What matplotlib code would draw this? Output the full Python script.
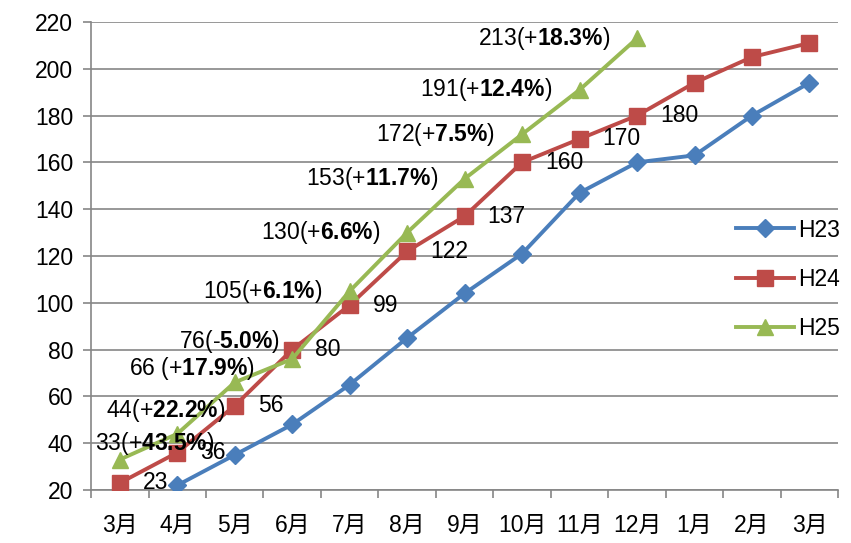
import numpy as np
import matplotlib
matplotlib.use("Agg")
import matplotlib.pyplot as plt

plt.rcParams['font.family'] = ['Liberation Sans', 'Noto Sans CJK JP', 'DejaVu Sans']
plt.rcParams['mathtext.fontset'] = 'custom'
plt.rcParams['mathtext.bf'] = 'Liberation Sans:bold'
plt.rcParams['mathtext.rm'] = 'Liberation Sans'

# data
months = ["3月", "4月", "5月", "6月", "7月", "8月", "9月", "10月", "11月", "12月", "1月", "2月", "3月"]
h23 = [None, 22, 35, 48, 65, 85, 104, 121, 147, 160, 163, 180, 194]
h24 = [23, 36, 56, 80, 99, 122, 137, 160, 170, 180, 194, 205, 211]
h25 = [33, 44, 66, 76, 105, 130, 153, 172, 191, 213]
h24_labels = ["23", "36", "56", "80", "99", "122", "137", "160", "170", "180"]
h25_vals = ["33", "44", "66 ", "76", "105", "130", "153", "172", "191", "213"]
h25_sign = ["+", "+", "+", "-", "+", "+", "+", "+", "+", "+"]
h25_pct = ["43.5%", "22.2%", "17.9%", "5.0%", "6.1%", "6.6%", "11.7%", "7.5%", "12.4%", "18.3%"]

# label offsets (pixels, right edge of text)
h25_off = [(95, 16), (48, 23), (20, 14), (-12, 17)] + [(-27, 0)] * 6

c_blue = "#4A7EBB"
c_red = "#BE4B48"
c_green = "#98B954"
gcol = "#868686"

fig = plt.figure(figsize=(8.51, 5.43), dpi=100)
ax = fig.add_axes([0.107, 0.0976, 0.878, 0.862])

x = np.arange(len(months))
y23 = np.array([np.nan if v is None else v for v in h23], dtype=float)

ax.plot(x, y23, color=c_blue, lw=2.8, marker="D", ms=9, label="H23", zorder=3)
ax.plot(x, h24, color=c_red, lw=2.8, marker="s", ms=11, label="H24", zorder=3)
ax.plot(x[:len(h25)], h25, color=c_green, lw=2.8, marker="^", ms=12, label="H25", zorder=4)

# red labels to the right
for i, t in enumerate(h24_labels):
    ax.annotate(t, (x[i], h24[i]), xytext=(23, 0), textcoords="offset pixels",
                ha="left", va="center", fontsize=16.5, zorder=5)

# green labels with bold percentage
for i in range(len(h25)):
    dx, dy = h25_off[i]
    s = h25_vals[i] + "(" + h25_sign[i] + r"$\mathbf{" + h25_pct[i].replace("%", r"\%") + "}$" + ")"
    ax.annotate(s, (x[i], h25[i]), xytext=(dx, dy), textcoords="offset pixels",
                ha="right", va="center", fontsize=16.5, zorder=5)

ax.set_xlim(-0.5, len(months) - 0.5)
ax.set_ylim(20, 220)
ax.set_yticks(np.arange(20, 221, 20))
ax.set_xticks(x)
ax.set_xticklabels(months)
ax.set_xticks(np.arange(-0.5, len(months)), minor=True)
ax.tick_params(axis="x", which="major", length=0, pad=17, labelsize=16.5)
ax.tick_params(axis="x", which="minor", length=6, color=gcol, width=1.2)
ax.tick_params(axis="y", length=6, color=gcol, width=1.2, pad=7, labelsize=16.5)

ax.grid(axis="y", color=gcol, lw=1.2)
ax.set_axisbelow(True)
for s in ["top", "right"]:
    ax.spines[s].set_visible(False)
for s in ["left", "bottom"]:
    ax.spines[s].set_color(gcol)
    ax.spines[s].set_linewidth(1.2)

ax.legend(loc="center right", bbox_to_anchor=(1.03, 0.45), frameon=False, fontsize=16.5,
          handlelength=2.5, handletextpad=0.2, labelspacing=1.15)

fig.savefig("out.png", dpi=100)
